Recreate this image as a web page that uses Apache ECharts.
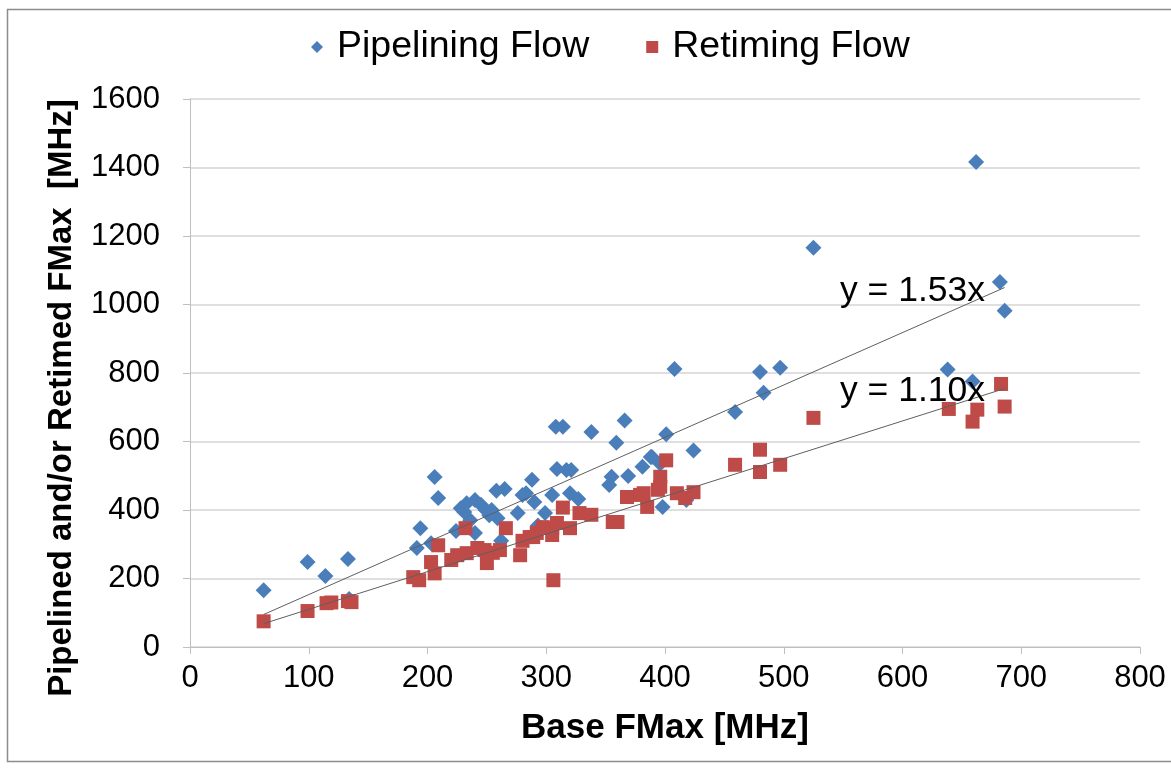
<!DOCTYPE html>
<html>
<head>
<meta charset="utf-8">
<script src="https://cdn.jsdelivr.net/npm/echarts@6/dist/echarts.min.js"></script>
<style>
html,body{margin:0;padding:0;background:#fff;}
#chart{width:1171px;height:770px;}
</style>
</head>
<body>
<div id="chart"></div>
<script>
// ---- data ----
var seriesNames = ['Pipelining Flow', 'Retiming Flow'];
var xTicks = [0, 100, 200, 300, 400, 500, 600, 700, 800];
var yTicks = [0, 200, 400, 600, 800, 1000, 1200, 1400, 1600];
var pipelining = [
  [62,166],[99,248],[114,207],[133,257],[134,140],
  [191,289],[194,347],[203,303],[206,496],[209,435],
  [224,339],[231,394],[233,420],[236,370],[240,429],[240,333],[245,415],[249,400],[254,400],[259,376],[228,405],[252,385],
  [258,456],[265,461],[276,391],[280,444],[283,449],[288,488],[290,423],[293,355],[299,391],[305,444],[309,520],[308,643],[314,643],[317,517],[321,517],[320,449],[327,432],[262,310],
  [338,628],[353,473],[355,497],[359,596],[366,661],[369,499],[381,526],[388,555],[389,555],[396,535],[398,409],[401,621],[408,812],[418,429],[424,574],
  [459,686],[480,803],[483,742],[497,815],[525,1166],[638,810],[659,775],[662,1416],[682,1066],[686,982]
];
var retiming = [
  [62,75],[99,105],[115,128],[119,130],[133,134],[136,131],
  [188,204],[193,195],[203,248],[206,215],[209,297],[220,254],[225,268],[232,347],[233,274],[242,289],[248,283],[250,245],[255,275],[261,283],[266,347],
  [278,268],[280,310],[286,321],[289,321],[292,333],[297,350],[305,347],[305,327],[306,195],[309,362],[314,407],[320,347],[328,391],[338,386],[356,365],[360,365],
  [368,438],[379,444],[382,449],[385,409],[394,459],[396,497],[396,468],[401,545],[410,449],[417,435],[424,452],
  [459,532],[480,576],[480,511],[497,532],[525,669],[639,695],[659,658],[663,693],[683,768],[686,702]
];
var trendSlopes = [1.53, 1.10];
var trendXRange = [62, 686];

// ---- chart ----
var FONT = '"Liberation Sans", Arial, sans-serif';
var chart = echarts.init(document.getElementById('chart'));
function trendData(s){ return trendXRange.map(function(x){ return [x, s*x]; }); }

var option = {
  animation: false,
  backgroundColor: '#ffffff',
  grid: { left: 190, right: 31, top: 99, bottom: 123, containLabel: false },
  legend: {
    top: 23, left: 306,
    itemGap: 57,
    itemWidth: 12, itemHeight: 12,
    textStyle: { fontFamily: FONT, fontSize: 37.5, color: '#000', padding: [0,0,0,9] },
    data: [
      { name: seriesNames[0], icon: 'diamond', itemStyle: { color: '#4A7EBB', opacity: 1 } },
      { name: seriesNames[1], icon: 'rect', itemStyle: { color: '#BE4B48', opacity: 1 } }
    ]
  },
  xAxis: {
    type: 'value', min: 0, max: 800, interval: 100,
    name: 'Base FMax [MHz]', nameLocation: 'middle', nameGap: 64,
    nameTextStyle: { fontFamily: FONT, fontSize: 35, fontWeight: 'bold', color: '#000' },
    axisLine: { show: true, onZero: false, lineStyle: { color: '#BFBFBF', width: 1 } },
    axisTick: { show: true, inside: false, length: 7, lineStyle: { color: '#BFBFBF' } },
    axisLabel: { fontFamily: FONT, fontSize: 31, color: '#000', margin: 16,
      formatter: function(v){ return xTicks.indexOf(v) >= 0 ? String(v) : ''; } },
    splitLine: { show: false }
  },
  yAxis: {
    type: 'value', min: 0, max: 1600, interval: 200,
    axisLine: { show: true, lineStyle: { color: '#BFBFBF', width: 1 } },
    axisTick: { show: true, inside: false, length: 7, lineStyle: { color: '#BFBFBF' } },
    axisLabel: { fontFamily: FONT, fontSize: 31, color: '#000', margin: 30,
      formatter: function(v){ return yTicks.indexOf(v) >= 0 ? String(v) : ''; } },
    splitLine: { show: true, lineStyle: { color: '#D4D4D4', width: 1.5 } }
  },
  series: [
    { name: seriesNames[0], type: 'scatter', symbol: 'diamond', symbolSize: 16,
      itemStyle: { color: '#4A7EBB', opacity: 1 }, data: pipelining, z: 3 },
    { name: seriesNames[1], type: 'scatter', symbol: 'rect', symbolSize: 14,
      itemStyle: { color: '#BE4B48', opacity: 1 }, data: retiming, z: 4 },
    { name: 'trend1', type: 'line', data: trendData(trendSlopes[0]), symbol: 'none',
      lineStyle: { color: '#5F5F5F', width: 1 }, z: 5, silent: true },
    { name: 'trend2', type: 'line', data: trendData(trendSlopes[1]), symbol: 'none',
      lineStyle: { color: '#5F5F5F', width: 1 }, z: 5, silent: true }
  ],
  graphic: [
    { type: 'rect', left: 5, top: 7, shape: { width: 1180, height: 752 }, silent: true,
      style: { fill: 'none', stroke: '#8C8C8C', lineWidth: 1.5 }, z: -10 },
    { type: 'text', x: 62, y: 398, rotation: Math.PI/2, silent: true,
      style: { text: 'Pipelined and/or Retimed FMax  [MHz]', fontFamily: FONT, fontSize: 33, fontWeight: 'bold',
        fill: '#000', align: 'center', verticalAlign: 'middle' } },
    { type: 'text', x: 840, y: 291, silent: true, z: 10,
      style: { text: 'y = ' + trendSlopes[0].toFixed(2) + 'x', fontFamily: FONT, fontSize: 35.5, fill: '#000',
        align: 'left', verticalAlign: 'middle' } },
    { type: 'text', x: 840, y: 391, silent: true, z: 10,
      style: { text: 'y = ' + trendSlopes[1].toFixed(2) + 'x', fontFamily: FONT, fontSize: 35.5, fill: '#000',
        align: 'left', verticalAlign: 'middle' } }
  ]
};
chart.setOption(option);
</script>
</body>
</html>
